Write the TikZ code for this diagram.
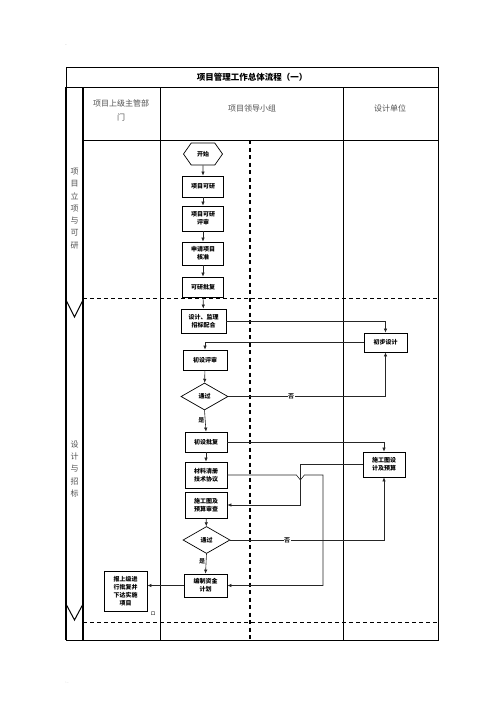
\documentclass[tikz,border=0pt]{standalone}
\usepackage{fontspec}
\newfontfamily\cjk{Noto Sans CJK SC}
\usepackage{xcolor}
\definecolor{headgray}{HTML}{505050}
\definecolor{wire}{HTML}{262626}
\usetikzlibrary{shapes.geometric, shapes.symbols, arrows.meta, positioning, calc}

\begin{document}
\begin{tikzpicture}[
        x=1pt, y=-1pt,
        frame/.style={line width=0.9pt, black},
        strip/.style={line width=1.6pt, black},
        grid/.style={line width=0.8pt, black},
        lanedash/.style={line width=1.4pt, black, dash pattern=on 4pt off 3.5pt},
        stagedash/.style={line width=0.8pt, black, dash pattern=on 4pt off 3pt},
        title/.style={font=\cjk\bfseries\fontsize{8.5}{10}\selectfont},
        head/.style={font=\cjk\fontsize{8}{14}\selectfont, text=headgray, align=center},
        stage/.style={font=\cjk\fontsize{8}{12.3}\selectfont, text=headgray, align=center},
        box/.style={
            rectangle,
            draw=black,
            line width=0.8pt,
            fill=white,
            align=center,
            font=\cjk\bfseries\fontsize{6}{8}\selectfont,
            minimum width=41pt,
            minimum height=20pt,
            inner sep=1pt
        },
        start/.style={
            signal, signal to=east and west, signal pointer angle=110,
            draw=black, line width=0.7pt, fill=white,
            font=\cjk\bfseries\fontsize{6}{8}\selectfont,
            minimum width=39pt, minimum height=22pt, inner sep=1pt
        },
        check/.style={
            diamond, aspect=1.75,
            draw=black, line width=0.7pt, fill=white,
            font=\cjk\bfseries\fontsize{6}{8}\selectfont,
            minimum width=47pt, minimum height=27pt, inner sep=0pt
        },
        lbl/.style={font=\cjk\bfseries\fontsize{6}{7}\selectfont, inner sep=0.6pt},
        arr/.style={-{Latex[length=4pt,width=3.5pt]}, line width=0.6pt, wire}
    ]

    \useasboundingbox (0,0) rectangle (496,702);

    % page marks
    \node[font=\fontsize{3}{3}\selectfont, text=black!50] (mtop) at (66,45) {-};
    \node[font=\fontsize{3}{3}\selectfont, text=black!50] (mbot) at (67,683) {:--};

    % Table frame
    \draw[frame] (66,67) rectangle (438,640);
    \draw[frame] (66,87) -- (438,87);
    \draw[strip] (66,87) -- (66,640);
    \draw[strip] (83,87) -- (83,640);
    \draw[grid] (83,140) -- (438,140);
    \draw[grid] (160,87) -- (160,640);
    \draw[grid] (343,87) -- (343,640);
    \draw[lanedash] (250,140) -- (250,640);
    \draw[stagedash] (83,298) -- (438,298);
    \draw[stagedash] (83,622) -- (438,622);
    \draw[line width=1pt] (66,300) -- (74.5,317) -- (83,300);
    \draw[line width=1pt] (66,604) -- (74.5,620) -- (83,604);

    % Title and headers
    \node[title] (ttl) at (252,77) {项目管理工作总体流程（一）};
    \node[head] (h1) at (121,110) {项目上级主管部\\门};
    \node[head] (h2) at (252,108) {项目领导小组};
    \node[head] (h3) at (390,108) {设计单位};

    % Stage labels
    \node[stage] (s1) at (74.5,208.5) {项\\目\\立\\项\\与\\可\\研};
    \node[stage] (s2) at (74.5,469) {设\\计\\与\\招\\标};

    % Stage 1: project approval
    \node[start] (ks) at (203,154) {开始};
    \node[box, minimum height=21pt] (xmky) at (203,186.5) {项目可研};
    \node[box, minimum height=25pt] (kyps) at (203,218.5) {项目可研\\评审};
    \node[box, minimum height=23pt] (sqhz) at (203,253.5) {申请项目\\核准};
    \node[box] (kypf) at (203,287) {可研批复};

    % Stage 2: design and tendering
    \node[box, minimum width=45pt, minimum height=24pt] (sjjl) at (203.5,321) {设计、监理\\招标配合};
    \node[box, minimum width=44pt] (cdps) at (205,360) {初设评审};
    \node[check] (tg1) at (204.5,396.5) {通过};
    \node[box, minimum width=42pt] (cdpf) at (206,442) {初设批复};
    \node[box, minimum width=42pt, minimum height=26pt] (clqc) at (206,475) {材料清册\\技术协议};
    \node[box, minimum width=42pt, minimum height=26pt] (sgys) at (206,505) {施工图及\\预算审查};
    \node[check] (tg2) at (206.5,540) {通过};
    \node[box, minimum width=43pt, minimum height=23pt] (zjjh) at (205.5,585.5) {编制资金\\计划};
    \node[box, minimum width=43pt, minimum height=40pt] (sbpf) at (125.5,591) {报上级进\\行批复并\\下达实施\\项目};
    \node[lbl, font=\cjk\fontsize{5}{5}\selectfont] (mk) at (153,614) {ロ};

    % Design unit
    \node[box, minimum width=43pt, minimum height=19pt] (cbsj) at (385.5,342.5) {初步设计};
    \node[box, minimum width=42pt, minimum height=25pt] (sgsj) at (384,464.5) {施工图设\\计及预算};

    % Connectors
    \draw[arr] (ks) -- (xmky);
    \draw[arr] (xmky) -- (kyps);
    \draw[arr] (kyps) -- (sqhz);
    \draw[arr] (sqhz) -- (kypf);
    \draw[arr] (kypf) -- (sjjl);
    \draw[arr] (sjjl.east) -| (cbsj.north);
    \draw[arr] (cbsj.west) -| (cdps.north);
    \draw[arr] (cdps) -- (tg1);
    \draw[arr] (tg1.east) -| node[lbl, fill=white, pos=0.2] (no1) {否} (cbsj.south);
    \draw[arr] (tg1.south) -- node[lbl, left, pos=0.45] (yes1) {是} (cdpf.north);
    \draw[arr] (cdpf.east) -| (sgsj.north);
    \draw[arr] (cdpf) -- (clqc);
    \coordinate (bend1) at (300,505);
    \draw[arr] (sgsj.west) -| (bend1) -- (sgys.east);
    \coordinate (bend2) at (323,585.5);
    \draw[arr] (clqc.east) -- ++(69,0) -- ++(4,5) -- ++(4,-5) -| (bend2) -- (zjjh.east);
    \draw[arr] (sgys) -- (tg2);
    \draw[arr] (tg2.east) -| node[lbl, fill=white, pos=0.185] (no2) {否} (sgsj.south);
    \draw[arr] (tg2.south) -- node[lbl, left, pos=0.4] (yes2) {是} (zjjh.north);
    \draw[arr] (zjjh.west) -- (zjjh.west -| sbpf.east);

\end{tikzpicture}
\end{document}
